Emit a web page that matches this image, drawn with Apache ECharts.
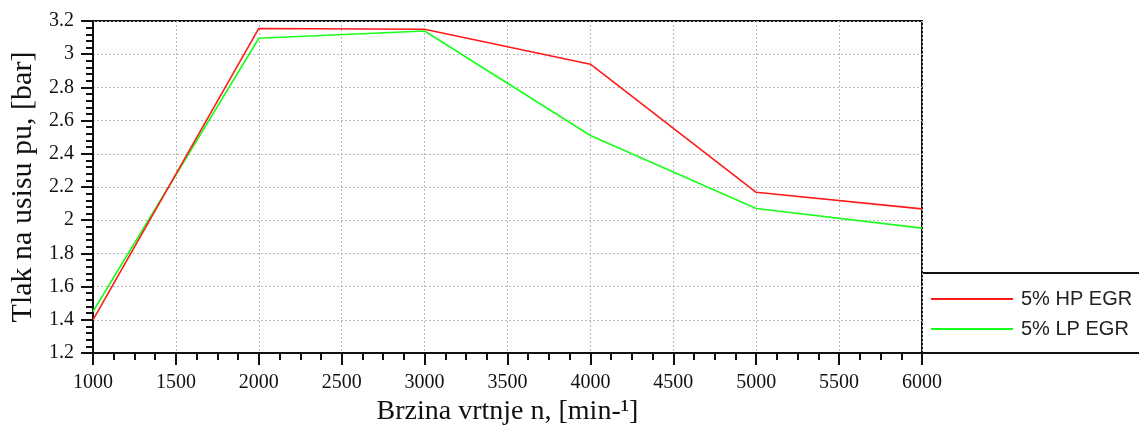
<!DOCTYPE html>
<html>
<head>
<meta charset="utf-8">
<script src="https://cdn.jsdelivr.net/npm/echarts@6/dist/echarts.min.js"></script>
<style>html,body{margin:0;padding:0;background:#fff}#c{width:1139px;height:425px}</style>
</head>
<body>
<div id="c"></div>
<script>
const speeds = [1000, 2000, 3000, 4000, 5000, 6000];
const hpEgr = [1.40, 3.155, 3.15, 2.94, 2.168, 2.068];
const lpEgr = [1.45, 3.096, 3.14, 2.51, 2.07, 1.952];
const seriesNames = ['5% HP EGR', '5% LP EGR'];
const xTitle = 'Brzina vrtnje n, [min-¹]';
const yTitle = 'Tlak na usisu pu, [bar]';

const chart = echarts.init(document.getElementById('c'), null, {renderer: 'canvas'});
const serif = '"Liberation Serif", "Times New Roman", serif';
const sans = '"Liberation Sans", Arial, sans-serif';
const axisCommon = {
  axisLine: {show: true, onZero: false, lineStyle: {color: '#111', width: 2}},
  axisTick: {show: true, inside: false, length: 12, lineStyle: {color: '#111', width: 2}},
  minorTick: {show: true, length: 7, lineStyle: {color: '#111', width: 2}},
  splitLine: {show: true, lineStyle: {color: '#b8b8b8', width: 1, type: [2, 2]}},
  axisLabel: {color: '#111', fontFamily: serif, fontSize: 20}
};
chart.setOption({
  animation: false,
  backgroundColor: '#fff',
  grid: {left: 93, top: 21, width: 829, height: 332, outerBoundsMode: 'none', containLabel: false,
         show: true, borderColor: '#111', borderWidth: 2, backgroundColor: 'transparent'},
  xAxis: Object.assign({}, axisCommon, {
    type: 'value', min: 1000, max: 6000, interval: 500,
    name: xTitle, nameLocation: 'middle', nameGap: 44,
    nameTextStyle: {color: '#111', fontFamily: serif, fontSize: 28},
    minorTick: Object.assign({}, axisCommon.minorTick, {splitNumber: 4}),
    axisLabel: Object.assign({}, axisCommon.axisLabel, {margin: 20, formatter: v => String(v)})
  }),
  yAxis: Object.assign({}, axisCommon, {
    type: 'value', min: 1.2, max: 3.2, interval: 0.2,
    name: yTitle, nameLocation: 'middle', nameGap: 53,
    nameTextStyle: {color: '#111', fontFamily: serif, fontSize: 30},
    minorTick: Object.assign({}, axisCommon.minorTick, {splitNumber: 5}),
    axisLabel: Object.assign({}, axisCommon.axisLabel, {margin: 19, formatter: v => String(Math.round(v * 10) / 10)})
  }),
  legend: {
    orient: 'vertical', left: 931, top: 289, itemGap: 10, padding: 0,
    itemWidth: 82, itemHeight: 2, icon: 'rect',
    textStyle: {fontFamily: sans, fontSize: 20, color: '#222', lineHeight: 20, padding: [0, 0, 0, 3]},
    data: seriesNames
  },
  graphic: [
    {type: 'rect', silent: true, shape: {x: 922, y: 273, width: 240, height: 80}, style: {fill: 'none', stroke: '#111', lineWidth: 2}},
    {type: 'line', silent: true, shape: {x1: 921, y1: 353, x2: 1139, y2: 353}, style: {stroke: '#111', lineWidth: 2}}
  ],
  series: [
    {name: seriesNames[0], type: 'line', data: speeds.map((s, i) => [s, hpEgr[i]]), showSymbol: false, symbol: 'none', lineStyle: {color: '#ff1a1a', width: 1.6}, itemStyle: {color: '#ff1a1a'}, z: 3},
    {name: seriesNames[1], type: 'line', data: speeds.map((s, i) => [s, lpEgr[i]]), showSymbol: false, symbol: 'none', lineStyle: {color: '#1aff1a', width: 1.6}, itemStyle: {color: '#1aff1a'}, z: 2}
  ]
});
</script>
</body>
</html>
